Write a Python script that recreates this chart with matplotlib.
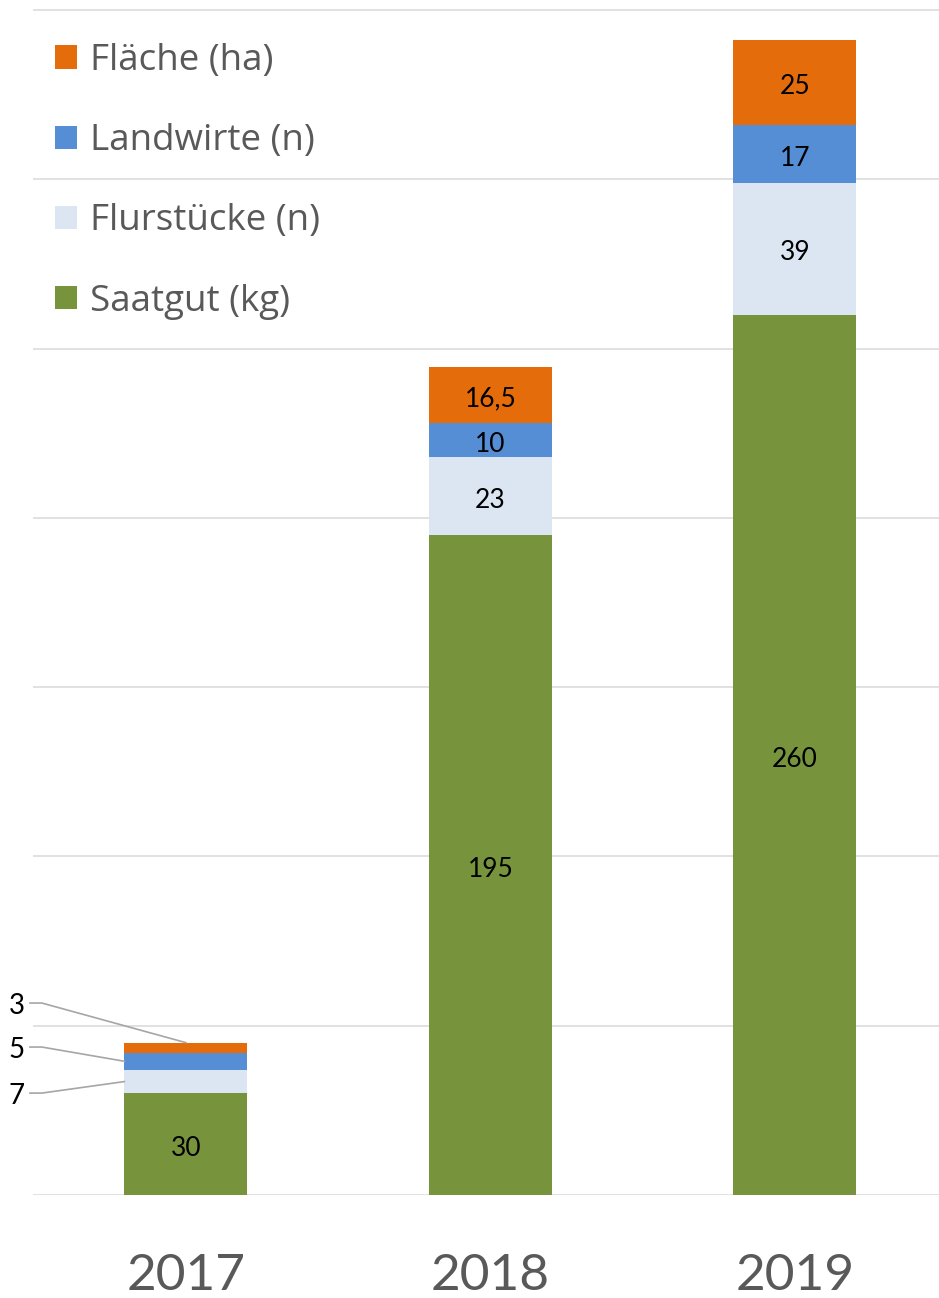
import matplotlib
matplotlib.use("Agg")
import matplotlib.pyplot as plt
from matplotlib.patches import Patch
import numpy as np

years = ["2017", "2018", "2019"]
series_names = ["Saatgut (kg)", "Flurstücke (n)", "Landwirte (n)", "Fläche (ha)"]
saatgut = [30, 195, 260]
flurstuecke = [7, 23, 39]
landwirte = [5, 10, 17]
flaeche = [3, 16.5, 25]
label_texts = [["30", "195", "260"], ["7", "23", "39"], ["5", "10", "17"], ["3", "16,5", "25"]]
colors = ["#77933C", "#DCE6F2", "#558ED5", "#E46C0A"]

plt.rcParams['font.family'] = ['Lato', 'DejaVu Sans']

fig = plt.figure(figsize=(9.39, 12.98), dpi=100)
ax = fig.add_axes([33/939, 103/1298, 906/939, 1195/1298])

x = np.arange(len(years))
w = 0.404
data = [saatgut, flurstuecke, landwirte, flaeche]
bottom = np.zeros(len(years))
bars = []
for vals, col, name in zip(data, colors, series_names):
    ax.bar(x, vals, w, bottom=bottom, color=col, label=name, zorder=2)
    bars.append((np.array(vals, dtype=float), bottom.copy()))
    bottom = bottom + np.array(vals, dtype=float)

ax.set_xlim(-0.502, 2.473)
ax.set_ylim(0, 352.95)
ax.set_yticks(np.arange(0, 351, 50))
ax.yaxis.grid(True, color="#D9D9D9", lw=1.1, zorder=0)
ax.set_axisbelow(True)
for s in ax.spines.values():
    s.set_visible(False)
ax.tick_params(axis='y', left=False, labelleft=False)
ax.tick_params(axis='x', bottom=False, pad=38, labelsize=37, labelcolor="#595959")
ax.set_xticks(x)
ax.set_xticklabels(years)

# inside labels
for si, (vals, bot) in enumerate(bars):
    for i in range(len(years)):
        if i == 0 and si > 0:
            continue
        ax.annotate(label_texts[si][i], (x[i], bot[i] + vals[i] / 2), xytext=(0, -3),
                    textcoords='offset points', ha='center', va='center',
                    fontsize=19, color="black", zorder=3)

# leader labels for 2017 small segments
lead_color = "#A6A6A6"
label_x = -0.555
kx0, kx1 = -0.512, -0.473
specs = [
    (3, 56.7, 'top'),
    (2, 43.7, 'left'),
    (1, 30.1, 'left'),
]
for si, ly, mode in specs:
    vals, bot = bars[si]
    if mode == 'top':
        tx, ty = x[0], bot[0] + vals[0]
    else:
        tx, ty = x[0] - w / 2, bot[0] + vals[0] / 2
    ax.annotate(label_texts[si][0], (label_x, ly), xytext=(0, -2), textcoords='offset points',
                ha='center', va='center', fontsize=20, color="black", annotation_clip=False)
    ax.plot([kx0, kx1, tx], [ly, ly, ty], color=lead_color, lw=1.2, clip_on=False, zorder=3)

handles = [Patch(facecolor=c, edgecolor='none') for c in colors][::-1]
names = series_names[::-1]
leg = ax.legend(handles, names, loc='upper left', bbox_to_anchor=(0.0243, 0.964), frameon=False,
                prop={'family': ['Open Sans', 'DejaVu Sans'], 'size': 26.5},
                labelcolor="#595959", handlelength=0.6, handleheight=0.6,
                handletextpad=0.35, labelspacing=1.20, borderaxespad=0.0, borderpad=0.0)

fig.savefig("out.png", dpi=100)
